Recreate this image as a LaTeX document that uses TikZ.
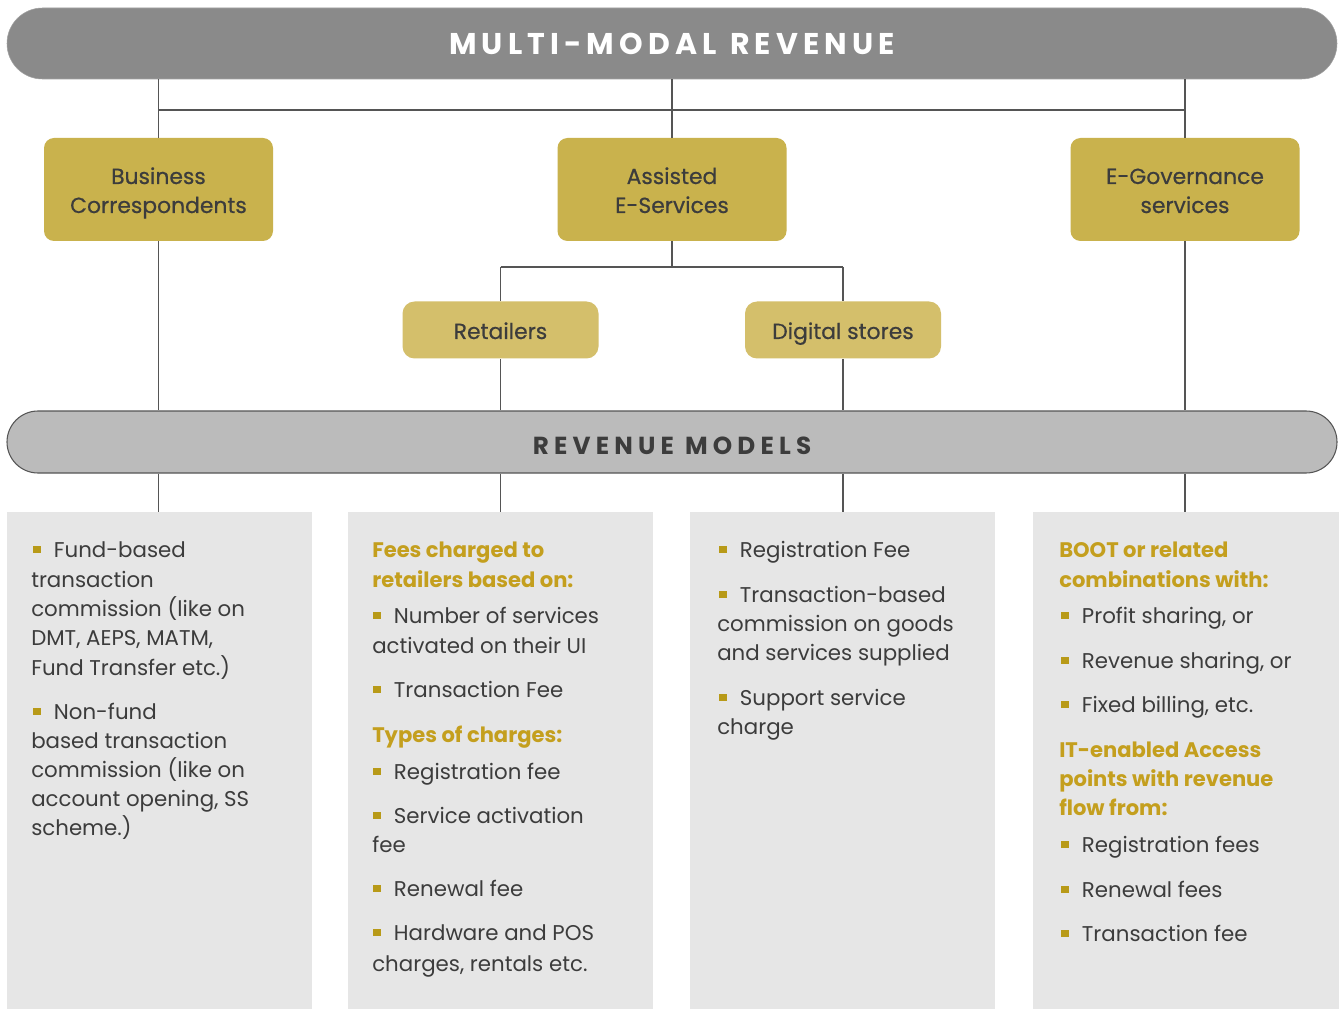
\documentclass[tikz,border=0pt]{standalone}
\usepackage{fontspec}
\setmainfont{Poppins}
\definecolor{bannerc}{HTML}{8A8A8A}
\definecolor{bandc}{HTML}{BBBBBB}
\definecolor{linec}{HTML}{555555}
\definecolor{boxd}{HTML}{C9B24D}
\definecolor{boxl}{HTML}{D4BF6B}
\definecolor{panelc}{HTML}{E6E6E6}
\definecolor{tdark}{HTML}{3C3C3C}
\definecolor{goldt}{HTML}{C49F1E}
\definecolor{bulc}{HTML}{B89A18}
\newcommand\bul{{\color{bulc}\rule[2.8pt]{5.5pt}{5.5pt}}\hspace{10pt}}
\begin{document}
\begin{tikzpicture}[x=0.75pt,y=-0.75pt,
  conn/.style={draw=linec,line width=0.9pt},
  txt/.style={anchor=base west,inner sep=0pt,text=tdark,font=\fontsize{16}{20}\selectfont},
  hd/.style={txt,text=goldt,font=\fontsize{15.8}{20}\selectfont\bfseries},
  btxt/.style={anchor=base,inner sep=0pt,text=tdark,font=\fontsize{16.4}{20}\selectfont\addfontfeature{FakeBold=0.6}},
  bigbox/.style={fill=boxd,rounded corners=7.5pt,minimum width=171.75pt,minimum height=77.25pt,inner sep=0pt},
  smallbox/.style={fill=boxl,rounded corners=9pt,minimum width=147pt,minimum height=42.75pt,inner sep=0pt},
  panel/.style={fill=panelc,minimum width=228.75pt,minimum height=372.75pt,inner sep=0pt}
]
\useasboundingbox (0,0) rectangle (1339,1009);
\fill[white] (0,0) rectangle (1339,1009);

% banners
\node[fill=bannerc,draw=bannerc!80!white,rounded corners=26.6pt,minimum width=997.5pt,minimum height=53.25pt,inner sep=0pt,text=white,font=\fontsize{22.5}{26}\selectfont\bfseries\addfontfeature{LetterSpace=17}] (top) at (672,43.5) {MULTI-MODAL\hspace{0.45em}REVENUE};
\node[fill=bandc,draw=linec,line width=0.8pt,rounded corners=23.25pt,minimum width=997.5pt,minimum height=46.5pt,inner sep=0pt] (band) at (672,442) {};
\node[inner sep=0pt,text=tdark,font=\fontsize{18.5}{22}\selectfont\bfseries\addfontfeature{LetterSpace=21}] (bandtxt) at (672,446) {REVENUE\hspace{0.45em}MODELS};

% boxes
\node[bigbox] (bc) at (158.5,189.5) {};
\node[bigbox] (ase) at (672,189.5) {};
\node[bigbox] (eg) at (1185,189.5) {};
\node[smallbox] (ret) at (500.5,330) {};
\node[smallbox] (dig) at (843,330) {};
\node[btxt] (bc1) at (158.5,184) {Business};
\node[btxt] (bc2) at (158.5,213) {Correspondents};
\node[btxt] (ase1) at (672,184) {Assisted};
\node[btxt] (ase2) at (672,213) {E-Services};
\node[btxt] (eg1) at (1185,184) {E-Governance};
\node[btxt] (eg2) at (1185,213) {services};
\node[btxt] (ret1) at (500.5,339) {Retailers};
\node[btxt] (dig1) at (843,339) {Digital stores};

% panels
\node[panel] (p1) at (159,760.5) {};
\node[panel] (p2) at (500.5,760.5) {};
\node[panel] (p3) at (842.5,760.5) {};
\node[panel,minimum width=229.5pt] (p4) at (1186,760.5) {};

% connectors
\coordinate (h1) at (0,110);
\coordinate (h2) at (0,267);
\draw[conn] (top.south -| bc.north) -- (bc.north);
\draw[conn] (top.south -| ase.north) -- (ase.north);
\draw[conn] (top.south -| eg.north) -- (eg.north);
\draw[conn] (bc.north |- h1) -- (eg.north |- h1);
\draw[conn] (ase.south) -- (ase.south |- h2);
\draw[conn] (ret.north |- h2) -- (dig.north |- h2);
\draw[conn] (ret.north |- h2) -- (ret.north);
\draw[conn] (dig.north |- h2) -- (dig.north);
\draw[conn] (bc.south) -- (bc.south |- band.north);
\draw[conn] (ret.south) -- (ret.south |- band.north);
\draw[conn] (dig.south) -- (dig.south |- band.north);
\draw[conn] (eg.south) -- (eg.south |- band.north);
\draw[conn] (band.south -| bc.south) -- (bc.south |- p1.north);
\draw[conn] (band.south -| ret.south) -- (ret.south |- p2.north);
\draw[conn] (band.south -| dig.south) -- (dig.south |- p3.north);
\draw[conn] (band.south -| eg.south) -- (eg.south |- p4.north);

% panel 1
\node[txt] (a1) at (33,557) {\bul Fund-based};
\node[txt] (a2) at (31,587) {transaction};
\node[txt] (a3) at (31,616) {commission (like on};
\node[txt] (a4) at (31,645) {DMT, AEPS, MATM,};
\node[txt] (a5) at (31,675) {Fund Transfer etc.)};
\node[txt] (a6) at (33,719) {\bul Non-fund};
\node[txt] (a7) at (31,748) {based transaction};
\node[txt] (a8) at (31,777) {commission (like on};
\node[txt] (a9) at (31,806) {account opening, SS};
\node[txt] (a10) at (31,835) {scheme.)};

% panel 2
\node[hd] (b1) at (372,557) {Fees charged to};
\node[hd] (b2) at (372,587) {retailers based on:};
\node[txt] (b3) at (373,623) {\bul Number of services};
\node[txt] (b4) at (372,653) {activated on their UI};
\node[txt] (b5) at (373,697) {\bul Transaction Fee};
\node[hd] (b6) at (372,742) {Types of charges:};
\node[txt] (b7) at (373,779) {\bul Registration fee};
\node[txt] (b8) at (373,823) {\bul Service activation};
\node[txt] (b9) at (372,852) {fee};
\node[txt] (b10) at (373,896) {\bul Renewal fee};
\node[txt] (b11) at (373,940) {\bul Hardware and POS};
\node[txt] (b12) at (372,971) {charges, rentals etc.};

% panel 3
\node[txt] (c1) at (719,557) {\bul Registration Fee};
\node[txt] (c2) at (719,602) {\bul Transaction-based};
\node[txt] (c3) at (717,631) {commission on goods};
\node[txt] (c4) at (717,660) {and services supplied};
\node[txt] (c5) at (719,705) {\bul Support service};
\node[txt] (c6) at (717,734) {charge};

% panel 4
\node[hd] (d1) at (1059,557) {BOOT or related};
\node[hd] (d2) at (1059,587) {combinations with:};
\node[txt] (d3) at (1061,623) {\bul Profit sharing, or};
\node[txt] (d4) at (1061,668) {\bul Revenue sharing, or};
\node[txt] (d5) at (1061,712) {\bul Fixed billing, etc.};
\node[hd] (d6) at (1059,757) {IT-enabled Access};
\node[hd] (d7) at (1059,786) {points with revenue};
\node[hd] (d8) at (1059,815) {flow from:};
\node[txt] (d9) at (1061,852) {\bul Registration fees};
\node[txt] (d10) at (1061,897) {\bul Renewal fees};
\node[txt] (d11) at (1061,941) {\bul Transaction fee};
\end{tikzpicture}
\end{document}
